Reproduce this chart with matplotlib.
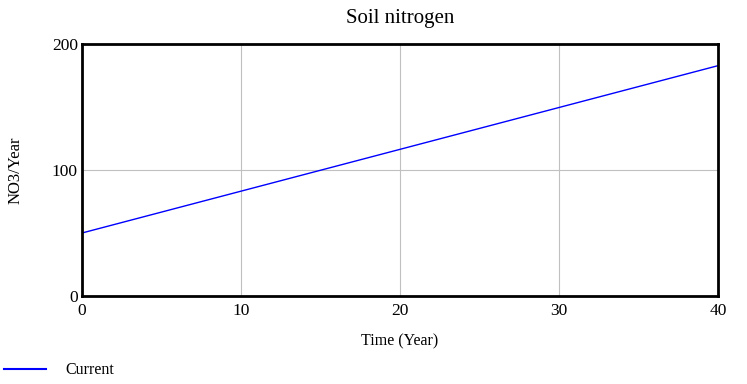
import matplotlib
matplotlib.use("Agg")
import matplotlib.pyplot as plt
from matplotlib.lines import Line2D

time = [0, 10, 20, 30, 40]
current = [50, 83.2, 116.4, 149.6, 182.8]
xticks = [0, 10, 20, 30, 40]
yticks = [0, 100, 200]

plt.rcParams['font.family'] = ['Liberation Serif', 'DejaVu Serif']

W, H = 747, 384
fig = plt.figure(figsize=(W/100, H/100), dpi=100)
ax = fig.add_axes([82/W, 1-296/H, (718-82)/W, (296-44)/H])
ax.plot(time, current, color='#0000ff', lw=1.0)
ax.set_xlim(0, 40)
ax.set_ylim(0, 200)
ax.set_xticks(xticks)
ax.set_yticks(yticks)
ax.grid(True, color='#c0c0c0', lw=0.8)
ax.tick_params(length=0, labelsize=12.5)
ax.tick_params(axis='x', pad=5)
ax.tick_params(axis='y', pad=3)
for s in ax.spines.values():
    s.set_linewidth(2)
    s.set_color('black')

fig.text(400/W, 1-18/H, 'Soil nitrogen', ha='center', va='center', fontsize=15)
fig.text(16/W, 1-170/H, 'NO3/Year', ha='center', va='center', rotation=90, fontsize=12)
fig.text(400/W, 1-341/H, 'Time (Year)', ha='center', va='center', fontsize=11.5)
fig.add_artist(Line2D([4/W, 46/W], [1-369/H, 1-369/H], color='#0000ff', lw=1.5))
fig.text(65/W, 1-370/H, 'Current', ha='left', va='center', fontsize=11.5)

fig.savefig('out.png', dpi=100)
